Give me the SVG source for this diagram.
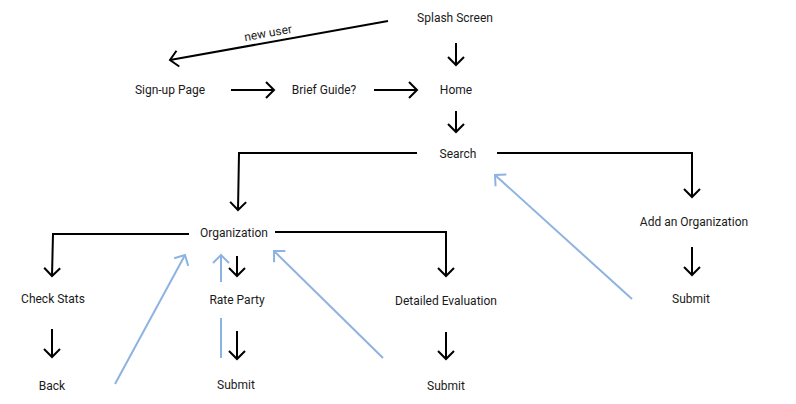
<svg xmlns="http://www.w3.org/2000/svg" width="796" height="404" viewBox="0 0 796 404">
<style>
text{font-family:Roboto,"Liberation Sans",sans-serif;font-size:12px;fill:#1a1a1a;text-anchor:middle;dominant-baseline:central}
.k{fill:none;stroke:#000;stroke-width:2;marker-end:url(#ak)}
.kn{fill:none;stroke:#000;stroke-width:2}
.b{fill:none;stroke:#8db3e2;stroke-width:2;marker-end:url(#ab)}
.bn{fill:none;stroke:#8db3e2;stroke-width:2}
</style>
<defs>
<marker id="ak" markerUnits="userSpaceOnUse" markerWidth="20" markerHeight="20" viewBox="-10 -10 20 20" refX="0" refY="0" orient="auto" overflow="visible">
<path d="M-8,-8 L0,0 L-8,8" fill="none" stroke="#000" stroke-width="2"/>
</marker>
<marker id="ab" markerUnits="userSpaceOnUse" markerWidth="20" markerHeight="20" viewBox="-10 -10 20 20" refX="0" refY="0" orient="auto" overflow="visible">
<path d="M-8,-8 L0,0 L-8,8" fill="none" stroke="#8db3e2" stroke-width="2"/>
</marker>
</defs>
<rect width="796" height="404" fill="#fff"/>
<g id="connectors">
<path class="k" d="M388,21 L170,60"/>
<path class="k" d="M456,43 L456,65"/>
<path class="k" d="M231,90 L274,90"/>
<path class="k" d="M374,90 L417,90"/>
<path class="k" d="M456,111 L456,132"/>
<path class="k" d="M417,153 L239,153 L238,210"/>
<path class="k" d="M497,153 L692,153 L692,197"/>
<path class="k" d="M692,247 L692,275"/>
<path class="k" d="M189,234 L53,234 L52,276"/>
<path class="k" d="M52,329 L52,357"/>
<path class="k" d="M275,232 L446,232 L446,276"/>
<path class="k" d="M446,332 L446,359"/>
<path class="k" d="M237,256 L237,276"/>
<path class="k" d="M237,331 L237,359"/>
<path class="b" d="M115,384 L185,255"/>
<path class="bn" d="M221,358 L221,318"/>
<path class="b" d="M221,282 L221,255"/>
<path class="b" d="M383,358 L274,251"/>
<path class="b" d="M632,299 L495,175"/>
<text x="268" y="33" transform="rotate(-10 268 33)">new user</text>
</g>
<g id="splash"><text x="455" y="18">Splash Screen</text></g>
<g id="signup"><text x="170" y="90">Sign-up Page</text></g>
<g id="guide"><text x="324" y="90">Brief Guide?</text></g>
<g id="home"><text x="456" y="90">Home</text></g>
<g id="search"><text x="458" y="154">Search</text></g>
<g id="addorg"><text x="694" y="222">Add an Organization</text></g>
<g id="submit-add"><text x="691" y="299">Submit</text></g>
<g id="organization"><text x="234" y="233">Organization</text></g>
<g id="checkstats"><text x="53" y="299">Check Stats</text></g>
<g id="back"><text x="52" y="386">Back</text></g>
<g id="rateparty"><text x="237" y="300">Rate Party</text></g>
<g id="submit-rate"><text x="236" y="385">Submit</text></g>
<g id="detailed"><text x="446" y="301">Detailed Evaluation</text></g>
<g id="submit-detailed"><text x="446" y="386">Submit</text></g>
</svg>
